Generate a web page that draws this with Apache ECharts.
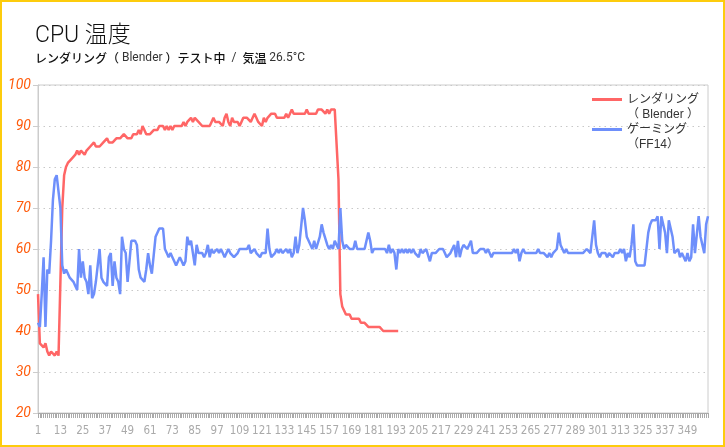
<!DOCTYPE html>
<html><head><meta charset="utf-8">
<script src="https://cdn.jsdelivr.net/npm/echarts@6/dist/echarts.min.js"></script>
<style>
html,body{margin:0;padding:0;background:#fff;}
#wrap{position:relative;width:725px;height:447px;}
#c{width:725px;height:447px;}
#frame{position:absolute;left:0;top:0;width:725px;height:447px;box-sizing:border-box;border:2px solid #fdcc0d;pointer-events:none;}
</style>
</head><body>
<div id="wrap"><div id="c"></div><div id="frame"></div></div>
<script>
// ---- data ----
var categories = [];
for (var k = 1; k <= 360; k++) categories.push(String(k));

var seriesNames = ['レンダリング\n（ Blender ）', 'ゲーミング\n（FF14）'];

var renderingTemp = [
 49,37,37,36,37,35,34,35,35,34,
 35,34,34,70,78,80,81,81,82,82,
 83,84,83,84,84,83,84,84,85,85,
 86,85,85,85,85,86,86,87,86,86,
 86,86,87,87,87,87,88,88,87,87,
 87,88,88,88,89,88,90,89,88,88,
 88,88,89,89,89,90,90,90,89,90,
 89,90,89,90,90,90,90,90,91,90,
 91,91,92,91,92,92,91,91,90,90,
 90,90,90,91,92,91,91,91,91,90,
 92,93,91,90,92,91,91,91,90,91,
 92,92,92,92,91,92,93,92,91,91,
 90,92,91,92,92,93,93,93,92,92,
 92,92,92,93,92,93,94,93,93,93,
 93,93,93,93,94,93,93,93,93,93,
 94,94,94,94,93,94,93,94,94,94,
 94,77,49,46,45,44,44,44,43,43,
 43,43,43,42,42,42,42,41,41,41,
 41,41,41,41,41,40,40,40,40,40,
 40,40,40,40
];

var gamingTemp = [
 42,41,49,58,41,55,54,62,72,77,
 78,78,70,56,54,55,54,53,53,52,
 51,50,60,53,57,53,52,49,56,48,
 49,52,56,60,53,52,52,51,58,59,
 51,57,53,52,49,63,60,59,52,52,
 62,62,62,61,55,53,53,52,55,59,
 56,54,54,63,63,65,65,65,60,59,
 58,59,58,57,56,57,58,57,56,57,
 63,61,62,59,56,61,59,59,59,58,
 59,61,58,60,59,59,60,59,60,59,
 58,59,60,59,59,58,58,59,60,60,
 60,60,60,61,59,59,60,59,59,58,
 59,59,59,65,60,58,58,59,60,59,
 60,59,59,60,59,60,58,59,63,59,
 61,61,70,67,63,62,62,60,62,60,
 60,63,66,64,64,61,60,61,60,62,
 61,60,70,62,60,61,61,60,60,60,
 62,60,60,60,60,60,60,64,62,59,
 60,60,60,60,60,60,60,59,61,59,
 60,59,55,60,59,60,59,60,59,60,
 59,60,59,59,58,60,59,59,60,60,
 57,59,59,59,59,60,60,60,59,58,
 58,59,60,61,58,62,58,60,61,61,
 60,61,62,59,59,59,59,60,60,60,
 59,60,59,58,59,59,59,59,59,59,
 59,59,59,59,59,60,59,60,57,59,
 60,59,59,59,59,59,59,59,60,59,
 59,59,59,58,59,58,59,59,60,64,
 61,60,59,60,59,59,59,59,59,59,
 59,59,59,59,60,60,59,59,67,61,
 59,58,59,59,59,58,59,59,58,59,
 59,59,60,59,60,57,59,58,61,66,
 57,56,56,56,56,56,56,64,66,67,
 67,67,68,60,68,68,64,59,67,67,
 63,59,59,60,58,59,59,57,59,57,
 58,66,59,59,68,63,61,59,66,68
];

var yMin = 20, yMax = 100, yStep = 10;

var chart = echarts.init(document.getElementById('c'));
chart.setOption({
  animation: false,
  backgroundColor: '#ffffff',
  title: {
    left: 30, top: 20, itemGap: 4,
    text: 'CPU 温度',
    textStyle: { fontFamily: "Roboto, 'Noto Sans CJK JP'", fontWeight: 300, fontSize: 23, color: '#111' },
    subtext: '{b|レンダリング（}{n| Blender }{b|）テスト中}{n|  /  }{b|気温}{n| 26.5°C}',
    subtextStyle: {
      fontSize: 12, color: '#222',
      rich: {
        b: { fontFamily: "'Noto Sans CJK JP'", fontWeight: 500, fontSize: 12, color: '#111' },
        n: { fontFamily: "Roboto, 'Noto Sans CJK JP'", fontSize: 12, color: '#333' }
      }
    }
  },
  legend: {
    orient: 'vertical', left: 587, top: 72,
    itemWidth: 30, itemHeight: 14, itemGap: -15,
    icon: 'path://M0,0H30V3H0Z', symbolKeepAspect: true,
    data: seriesNames,
    formatter: function (name) { return '\n' + name; },
    textStyle: { fontFamily: "'Liberation Sans', 'Noto Sans CJK JP'", fontSize: 12, color: '#333', lineHeight: 15 }
  },
  grid: { left: 38, right: 17, top: 85, bottom: 34, show: true, borderColor: '#cccccc', borderWidth: 1, backgroundColor: 'transparent' },
  xAxis: {
    type: 'category', data: categories, boundaryGap: false,
    axisLine: { lineStyle: { color: '#aaaaaa', width: 1 } },
    axisTick: { interval: 0, length: 5, lineStyle: { color: '#aaaaaa' } },
    axisLabel: { interval: 11, color: '#aaaaaa', fontSize: 11.5, fontFamily: "'DejaVu Sans Condensed', 'Liberation Sans Narrow', sans-serif", margin: 12 },
    splitLine: { show: false }
  },
  yAxis: {
    type: 'value', min: yMin, max: yMax, interval: yStep,
    axisLine: { show: true, lineStyle: { color: '#cccccc' } },
    axisTick: { show: true, length: 5, lineStyle: { color: '#cccccc' } },
    axisLabel: { color: '#ff5a0a', fontStyle: 'italic', fontSize: 14, fontFamily: 'Roboto, sans-serif', margin: 7 },
    splitLine: { lineStyle: { color: '#c8c8c8', type: [1.5, 4], width: 1 } }
  },
  series: [
    { name: seriesNames[0], type: 'line', data: renderingTemp, symbol: 'none', showSymbol: false,
      lineStyle: { color: '#ff6666', width: 2.5 }, itemStyle: { color: '#ff6666' } },
    { name: seriesNames[1], type: 'line', data: gamingTemp, symbol: 'none', showSymbol: false,
      lineStyle: { color: '#6e8ffb', width: 2.5 }, itemStyle: { color: '#6e8ffb' } }
  ]
});
</script>
</body></html>
